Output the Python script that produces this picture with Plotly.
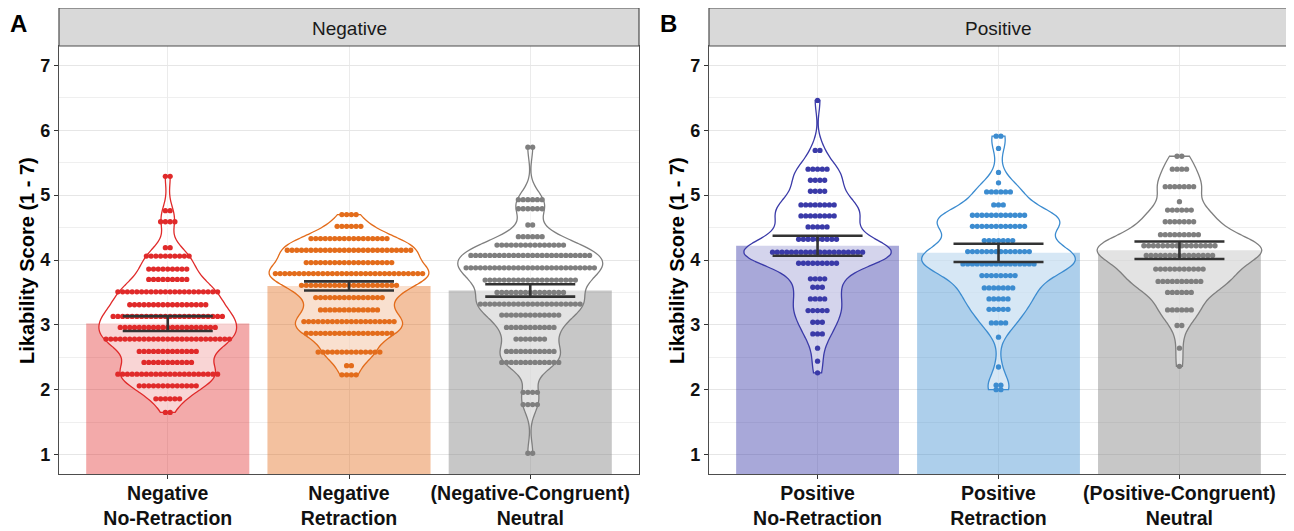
import numpy as np
import plotly.graph_objects as go

# ---------------- data ----------------
panel_titles = ["Negative", "Positive"]
panel_tags = ["A", "B"]
neg_labels = ["Negative<br>No-Retraction", "Negative<br>Retraction", "(Negative-Congruent)<br>Neutral"]
pos_labels = ["Positive<br>No-Retraction", "Positive<br>Retraction", "(Positive-Congruent)<br>Neutral"]
y_ticks = [1, 2, 3, 4, 5, 6, 7]
y_title = "Likability Score (1 - 7)"

neg_means = [3.02, 3.60, 3.53]
neg_err = [0.115, 0.07, 0.095]
pos_means = [4.22, 4.11, 4.15]
pos_err = [0.155, 0.14, 0.135]

# dot-plot rows: score level and number of participants at that level
neg_noret_levels = [5.29, 4.76, 4.59, 4.19, 4.06, 3.86, 3.70, 3.51, 3.31, 3.13, 2.96, 2.78, 2.59, 2.42, 2.24, 2.06, 1.86, 1.65]
neg_noret_counts = [2, 2, 4, 2, 10, 9, 9, 22, 17, 24, 21, 27, 13, 11, 22, 13, 6, 2]

neg_ret_levels = [4.70, 4.52, 4.33, 4.15, 3.96, 3.79, 3.61, 3.42, 3.23, 3.05, 2.87, 2.58, 2.37, 2.23]
neg_ret_counts = [4, 6, 17, 27, 19, 32, 21, 15, 13, 20, 19, 14, 2, 4]

neg_neu_levels = [5.74, 4.93, 4.79, 4.54, 4.36, 4.23, 4.07, 3.88, 3.69, 3.50, 3.32, 3.15, 2.96, 2.78, 2.59, 2.42, 1.96, 1.77, 1.02]
neg_neu_counts = [2, 6, 6, 2, 6, 15, 26, 28, 20, 15, 22, 13, 11, 7, 11, 13, 4, 4, 2]

pos_noret_levels = [6.46, 5.69, 5.40, 5.23, 5.06, 4.85, 4.68, 4.51, 4.32, 4.12, 3.95, 3.71, 3.58, 3.40, 3.22, 3.04, 2.86, 2.64, 2.44, 2.26]
pos_noret_counts = [1, 2, 5, 4, 4, 8, 8, 5, 9, 20, 9, 4, 3, 4, 5, 3, 3, 1, 1, 1]

pos_ret_levels = [5.91, 5.72, 5.35, 5.19, 5.05, 4.85, 4.69, 4.52, 4.30, 4.13, 3.94, 3.76, 3.57, 3.40, 3.24, 3.03, 2.81, 2.35, 2.07, 2.00]
pos_ret_counts = [2, 1, 1, 1, 6, 3, 12, 12, 7, 14, 16, 8, 7, 5, 5, 4, 1, 1, 2, 2]

pos_neu_levels = [5.60, 5.40, 5.13, 4.90, 4.77, 4.59, 4.39, 4.22, 4.07, 3.86, 3.67, 3.50, 3.23, 2.99, 2.64, 2.36]
pos_neu_counts = [2, 4, 7, 1, 6, 7, 9, 16, 15, 11, 10, 6, 6, 2, 1, 1]

# ---------------- styles ----------------
neg_line_colors = ["#E02A2A", "#E36C1B", "#7F7F7F"]
neg_bar_colors = ["rgba(224,42,42,0.40)", "rgba(227,108,27,0.42)", "rgba(127,127,127,0.44)"]
pos_line_colors = ["#3A3AA8", "#3C8CD0", "#7F7F7F"]
pos_bar_colors = ["rgba(58,58,168,0.44)", "rgba(60,140,208,0.42)", "rgba(127,127,127,0.44)"]
neg_violin_widths = [0.76, 0.88, 0.80]
pos_violin_widths = [0.81, 0.85, 0.91]
BW_FACTOR = 0.85

# page has an 8px body margin: figure is placed at (8, 8)
OFF = 8
W, H = 1294 - OFF, 531 - OFF
FONT = "Liberation Sans, Arial, sans-serif"
DOT_STEP = 0.0262
px_x = lambda p: (p - OFF) / W
px_y = lambda p: (H - (p - OFF)) / H


def silverman(vals):
    sd = np.std(vals, ddof=1)
    iqr = np.subtract(*np.percentile(vals, [75, 25])) / 1.34
    return 0.9 * min(sd, iqr) * len(vals) ** -0.2


panels = [
    dict(labels=neg_labels, means=neg_means, err=neg_err,
         rows=[(neg_noret_levels, neg_noret_counts), (neg_ret_levels, neg_ret_counts), (neg_neu_levels, neg_neu_counts)],
         lines=neg_line_colors, bars=neg_bar_colors, vw=neg_violin_widths,
         xdom=[px_x(59), px_x(639)]),
    dict(labels=pos_labels, means=pos_means, err=pos_err,
         rows=[(pos_noret_levels, pos_noret_counts), (pos_ret_levels, pos_ret_counts), (pos_neu_levels, pos_neu_counts)],
         lines=pos_line_colors, bars=pos_bar_colors, vw=pos_violin_widths,
         xdom=[px_x(709), px_x(1288)]),
]
ydom = [px_y(474), px_y(46)]

fig = go.Figure()
layout_axes = {}
shapes = []
annotations = []

for k, p in enumerate(panels):
    xa = "x" if k == 0 else "x2"
    ya = "y" if k == 0 else "y2"
    pos = [1, 2, 3]
    # bars (means)
    fig.add_trace(go.Bar(x=pos, y=p["means"], width=0.9, marker=dict(color=p["bars"], line=dict(width=0)),
                         xaxis=xa, yaxis=ya, showlegend=False, hoverinfo="skip"))
    # violins
    for i, (lv, ct) in enumerate(p["rows"]):
        vals = np.repeat(lv, ct)
        fig.add_trace(go.Violin(y=vals, x0=pos[i], width=p["vw"][i], scalemode="width", spanmode="hard",
                                bandwidth=BW_FACTOR * silverman(vals),
                                points=False, fillcolor="rgba(255,255,255,0.5)",
                                line=dict(color=p["lines"][i], width=1.3),
                                box_visible=False, meanline_visible=False,
                                xaxis=xa, yaxis=ya, showlegend=False, hoverinfo="skip", name=str(i)))
    # dots (centered stacks)
    for i, (lv, ct) in enumerate(p["rows"]):
        xs, ys = [], []
        for v, n in zip(lv, ct):
            offs = (np.arange(n) - (n - 1) / 2.0) * DOT_STEP
            xs.extend(pos[i] + offs)
            ys.extend([v] * n)
        fig.add_trace(go.Scatter(x=xs, y=ys, mode="markers",
                                 marker=dict(size=5.3, color=p["lines"][i], line=dict(width=0)),
                                 xaxis=xa, yaxis=ya, showlegend=False, hoverinfo="skip"))
    # error bars
    fig.add_trace(go.Scatter(x=pos, y=p["means"], mode="markers",
                             marker=dict(size=1, color="rgba(0,0,0,0)"),
                             error_y=dict(type="data", array=p["err"], width=45, thickness=2.6, color="#333333"),
                             xaxis=xa, yaxis=ya, showlegend=False, hoverinfo="skip"))

    suffix = "" if k == 0 else "2"
    layout_axes["xaxis" + suffix] = dict(
        domain=p["xdom"], range=[0.4, 3.6], anchor=ya, tickvals=pos, ticktext=p["labels"],
        showgrid=True, gridcolor="#EBEBEB", gridwidth=1, zeroline=False,
        showline=True, mirror=True, linecolor="#4D4D4D", linewidth=1.2,
        ticks="outside", ticklen=4, tickcolor="#333333", tickwidth=1,
        ticklabelstandoff=-3,
        tickfont=dict(family=FONT, size=19.5, color="#111111", weight="bold"),
        automargin=False, fixedrange=True)
    layout_axes["yaxis" + suffix] = dict(
        domain=ydom, range=[0.7, 7.3], anchor=xa, tickvals=y_ticks,
        showgrid=True, gridcolor="#E6E6E6", gridwidth=1, zeroline=False,
        minor=dict(tickvals=[1.5, 2.5, 3.5, 4.5, 5.5, 6.5], showgrid=True, gridcolor="#EFEFEF", gridwidth=0.7, ticks=""),
        showline=True, mirror=True, linecolor="#4D4D4D", linewidth=1.2,
        ticks="outside", ticklen=4, tickcolor="#333333", tickwidth=1,
        tickfont=dict(family=FONT, size=18, color="#111111", weight="bold"),
        automargin=False, fixedrange=True)

    # facet strip
    shapes.append(dict(type="rect", xref="paper", yref="paper", x0=p["xdom"][0], x1=p["xdom"][1],
                       y0=px_y(46), y1=px_y(8), fillcolor="#D9D9D9", line=dict(color="#4D4D4D", width=1.2), layer="above"))
    annotations.append(dict(text=panel_titles[k], xref="paper", yref="paper",
                            x=(p["xdom"][0] + p["xdom"][1]) / 2, y=px_y(29), showarrow=False,
                            xanchor="center", yanchor="middle",
                            font=dict(family=FONT, size=19, color="#1A1A1A")))
    # panel tag
    annotations.append(dict(text="<b>%s</b>" % panel_tags[k], xref="paper", yref="paper",
                            x=px_x(18 if k == 0 else 669), y=px_y(24), showarrow=False,
                            xanchor="center", yanchor="middle",
                            font=dict(family=FONT, size=24, color="#000000")))
    # y title
    annotations.append(dict(text="<b>%s</b>" % y_title, xref="paper", yref="paper",
                            x=px_x(27 if k == 0 else 677), y=px_y(261), showarrow=False, textangle=-90,
                            xanchor="center", yanchor="middle",
                            font=dict(family=FONT, size=20, color="#000000")))

fig.update_layout(
    width=W, height=H, margin=dict(l=0, r=0, t=0, b=0),
    paper_bgcolor="white", plot_bgcolor="white",
    barmode="overlay", violinmode="overlay", showlegend=False,
    shapes=shapes, annotations=annotations, font=dict(family=FONT),
    **layout_axes)

fig.write_html("out.html", config={"displayModeBar": False})
